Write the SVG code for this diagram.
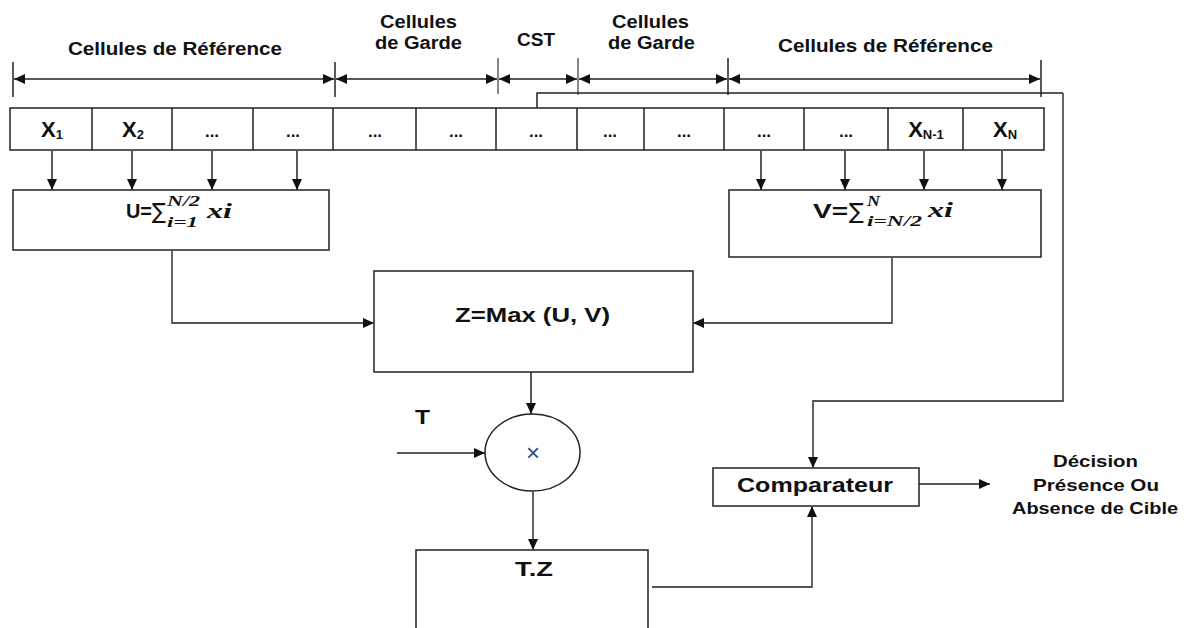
<svg xmlns="http://www.w3.org/2000/svg" width="1190" height="628" viewBox="0 0 1190 628">
<style>
.t{font-family:"Liberation Sans",Arial,sans-serif;font-weight:bold;fill:#111}
.m{font-family:"Liberation Serif","DejaVu Serif",serif;font-weight:bold;font-style:italic;fill:#111}
.box{fill:#fff;stroke:#222;stroke-width:1.5}
.ln{fill:none;stroke:#222;stroke-width:1.5}
.gl{fill:none;stroke:#555;stroke-width:1.8}
.tk{stroke:#222;stroke-width:1.5}
.tkg{stroke:#888;stroke-width:2}
</style>
<defs>
<marker id="ar" markerUnits="userSpaceOnUse" markerWidth="12" markerHeight="10" refX="11" refY="5" orient="auto-start-reverse">
<path d="M0,0 L11,5 L0,10 z" fill="#111"/>
</marker>
</defs>
<rect width="1190" height="628" fill="#fff"/>

<g id="labels">
<text class="t" x="68" y="55" font-size="19" textLength="214" lengthAdjust="spacingAndGlyphs">Cellules de Référence</text>
<text class="t" x="380" y="28" font-size="18" textLength="77" lengthAdjust="spacingAndGlyphs">Cellules</text>
<text class="t" x="375" y="49" font-size="18" textLength="87" lengthAdjust="spacingAndGlyphs">de Garde</text>
<text class="t" x="517" y="46" font-size="18" textLength="38" lengthAdjust="spacingAndGlyphs">CST</text>
<text class="t" x="612" y="28" font-size="18" textLength="77" lengthAdjust="spacingAndGlyphs">Cellules</text>
<text class="t" x="608" y="49" font-size="18" textLength="87" lengthAdjust="spacingAndGlyphs">de Garde</text>
<text class="t" x="778" y="52" font-size="19" textLength="215" lengthAdjust="spacingAndGlyphs">Cellules de Référence</text>
</g>

<g id="dimensions">
<line class="tk" x1="13" y1="62" x2="13" y2="97"/>
<line class="tk" x1="335" y1="62" x2="335" y2="97"/>
<line class="tkg" x1="498" y1="58" x2="498" y2="94"/>
<line class="tkg" x1="578" y1="58" x2="578" y2="95"/>
<line class="tk" x1="728" y1="58" x2="728" y2="95"/>
<line class="tk" x1="1041" y1="60" x2="1041" y2="97"/>
<line class="ln" x1="14" y1="79" x2="334" y2="79" marker-start="url(#ar)" marker-end="url(#ar)"/>
<line class="ln" x1="336" y1="79" x2="497" y2="79" marker-start="url(#ar)" marker-end="url(#ar)"/>
<line class="ln" x1="499" y1="79" x2="577" y2="79" marker-start="url(#ar)" marker-end="url(#ar)"/>
<line class="ln" x1="579" y1="79" x2="727" y2="79" marker-start="url(#ar)" marker-end="url(#ar)"/>
<line class="ln" x1="729" y1="79" x2="1040" y2="79" marker-start="url(#ar)" marker-end="url(#ar)"/>
</g>

<g id="cells">
<rect class="box" x="10" y="108" width="1034" height="42"/>
<path class="ln" d="M92,108V150M172,108V150M253,108V150M333,108V150M416,108V150M496,108V150M577,108V150M644,108V150M724,108V150M804,108V150M888,108V150M963,108V150"/>
<text class="t" x="52" y="137" font-size="22" text-anchor="middle">X<tspan font-size="13" dy="2">1</tspan></text>
<text class="t" x="133" y="137" font-size="22" text-anchor="middle">X<tspan font-size="13" dy="2">2</tspan></text>
<g class="t" font-size="17" text-anchor="middle">
<text x="212" y="137">...</text>
<text x="293" y="137">...</text>
<text x="375" y="137">...</text>
<text x="456" y="137">...</text>
<text x="536" y="137">...</text>
<text x="610" y="137">...</text>
<text x="684" y="137">...</text>
<text x="764" y="137">...</text>
<text x="846" y="137">...</text>
</g>
<text class="t" x="926" y="137" font-size="22" text-anchor="middle">X<tspan font-size="13" dy="2">N-1</tspan></text>
<text class="t" x="1005" y="137" font-size="22" text-anchor="middle">X<tspan font-size="13" dy="2">N</tspan></text>
</g>

<g id="U">
<rect class="box" x="13" y="190" width="316" height="60"/>
<text class="t" x="126" y="218" font-size="21" textLength="26" lengthAdjust="spacingAndGlyphs">U=</text>
<text x="152" y="219" font-size="22" font-family="DejaVu Sans,sans-serif" fill="#111" textLength="14" lengthAdjust="spacingAndGlyphs">∑</text>
<text class="m" x="167" y="206" font-size="15" textLength="33" lengthAdjust="spacingAndGlyphs">N/2</text>
<text class="m" x="167" y="227" font-size="15" textLength="31" lengthAdjust="spacingAndGlyphs">i=1</text>
<text class="m" x="207" y="218" font-size="22" textLength="25" lengthAdjust="spacingAndGlyphs">xi</text>
</g>

<g id="V">
<rect class="box" x="729" y="190" width="312" height="67"/>
<text class="t" x="813" y="218" font-size="21" textLength="35" lengthAdjust="spacingAndGlyphs">V=</text>
<text x="849" y="219" font-size="22" font-family="DejaVu Sans,sans-serif" fill="#111" textLength="15" lengthAdjust="spacingAndGlyphs">∑</text>
<text class="m" x="867" y="206" font-size="15" textLength="13" lengthAdjust="spacingAndGlyphs">N</text>
<text class="m" x="867" y="226" font-size="15" textLength="55" lengthAdjust="spacingAndGlyphs">i=N/2</text>
<text class="m" x="928" y="217" font-size="22" textLength="25" lengthAdjust="spacingAndGlyphs">xi</text>
</g>

<g id="Z">
<rect class="box" x="374" y="271" width="319" height="101"/>
<text class="t" x="455" y="322" font-size="21" textLength="155" lengthAdjust="spacingAndGlyphs">Z=Max (U, V)</text>
</g>

<g id="mult">
<ellipse class="box" cx="532.5" cy="452.5" rx="47.5" ry="38.5"/>
<text x="533" y="461" font-size="24" text-anchor="middle" font-family="Liberation Sans,sans-serif" fill="#2b4f7e">×</text>
</g>

<g id="T">
<text class="t" x="415" y="424" font-size="21" textLength="15" lengthAdjust="spacingAndGlyphs">T</text>
</g>

<g id="TZ">
<path class="box" d="M416,640V550H648V640"/>
<text class="t" x="515" y="576" font-size="21" textLength="38" lengthAdjust="spacingAndGlyphs">T.Z</text>
</g>

<g id="comparateur">
<rect class="box" x="713" y="468" width="206" height="38"/>
<text class="t" x="737" y="492" font-size="21" textLength="156" lengthAdjust="spacingAndGlyphs">Comparateur</text>
</g>

<g id="decision" class="t" font-size="17">
<text x="1053" y="467" textLength="85" lengthAdjust="spacingAndGlyphs">Décision</text>
<text x="1033" y="491" textLength="126" lengthAdjust="spacingAndGlyphs">Présence Ou</text>
<text x="1012" y="514" textLength="166" lengthAdjust="spacingAndGlyphs">Absence de Cible</text>
</g>

<g id="connectors">
<path class="ln" d="M52,151V190" marker-end="url(#ar)"/>
<path class="ln" d="M132,151V190" marker-end="url(#ar)"/>
<path class="ln" d="M212,151V190" marker-end="url(#ar)"/>
<path class="ln" d="M297,151V190" marker-end="url(#ar)"/>
<path class="ln" d="M761,151V190" marker-end="url(#ar)"/>
<path class="ln" d="M845,151V190" marker-end="url(#ar)"/>
<path class="ln" d="M924,151V190" marker-end="url(#ar)"/>
<path class="ln" d="M1002,151V190" marker-end="url(#ar)"/>
<path class="gl" d="M172,250V323H374" marker-end="url(#ar)"/>
<path class="gl" d="M892,257V323H693" marker-end="url(#ar)"/>
<path class="ln" d="M531,372V414" marker-end="url(#ar)"/>
<path class="ln" d="M397,453H485" marker-end="url(#ar)"/>
<path class="gl" d="M533,491V550" marker-end="url(#ar)"/>
<path class="gl" d="M652,587H812V506" marker-end="url(#ar)"/>
<path class="ln" d="M537,108V93H1063"/>
<path class="gl" d="M1063,93V401H813V468" marker-end="url(#ar)"/>
<path class="ln" d="M919,484H990" marker-end="url(#ar)"/>
</g>
</svg>
